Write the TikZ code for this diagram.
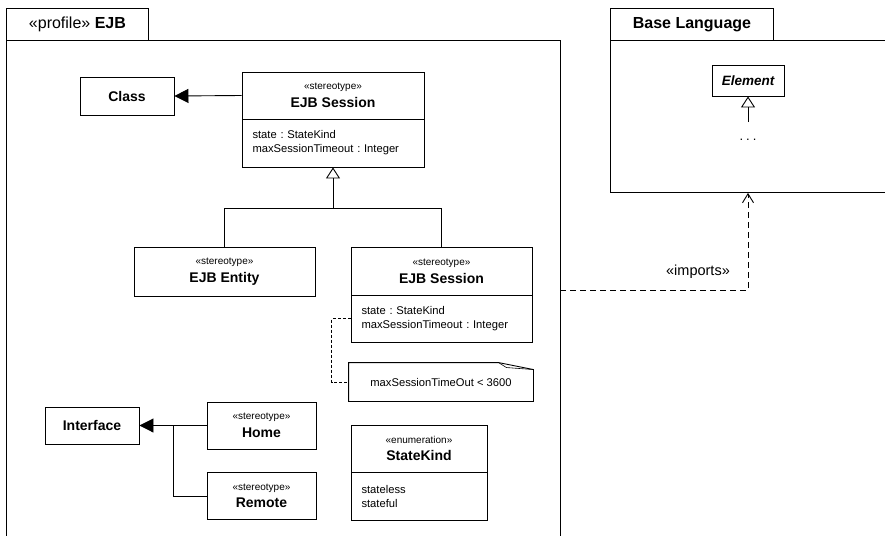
\documentclass[tikz,border=0pt]{standalone}
\usepackage{fontspec}
\setmainfont{Liberation Sans}
\usetikzlibrary{arrows.meta,calc}
\frenchspacing

% font sizes used by the UML elements
\newcommand\umlpkg{\fontsize{16}{19}\selectfont}
\newcommand\umlname{\fontsize{14}{16}\selectfont\bfseries}
\newcommand\umlst{\fontsize{10}{12}\selectfont\mdseries}
\newcommand\umlattr{\fontsize{11.2}{14}\selectfont}
\newcommand\umlimp{\fontsize{14.5}{17}\selectfont}

\begin{document}
\begin{tikzpicture}[x=1pt,y=-1pt,line width=0.9pt,
  box/.style={draw,fill=white,inner sep=0pt,align=center,font=\umlname},
  attrs/.style={draw,fill=white,inner xsep=10.5pt,inner ysep=0pt,align=left,font=\umlattr},
  pkg/.style={draw,inner sep=0pt,anchor=north west},
  gen/.style={-{Triangle[open,length=11pt,width=14pt]}},
  ext/.style={-{Triangle[length=14pt,width=14pt]}},
  imp/.style={dash pattern=on 6pt off 4pt,-{Straight Barb[length=9pt,width=11pt]}},
  notelink/.style={dash pattern=on 3pt off 2pt,line width=0.7pt}]
\useasboundingbox (0,0) rectangle (885,535);

% ---- package EJB ----
\node (ejbbody) [pkg,minimum width=554pt,minimum height=520pt] at (6,40) {};
\node (ejbtab) [pkg,minimum width=142pt,minimum height=32pt] at (6,8) {};
\node (ejbname) at (ejbtab.center) {\umlpkg «profile»\ \textbf{EJB}};

% ---- package Base Language ----
\node (basebody) [pkg,minimum width=290pt,minimum height=152pt] at (610,40) {};
\node (basetab) [pkg,minimum width=163pt,minimum height=32pt] at (610,8) {};
\node (basename) at (basetab.center) {\umlpkg\bfseries Base Language};

\node (elem) [box,minimum width=72pt,minimum height=31pt,font=\fontsize{13.5}{16}\selectfont\bfseries\itshape] at (748,80.5) {Element};
\coordinate (elemsub) at (748,122);
\draw[gen] (elemsub) -- (elem.south);
\node (dots) at (748,140) {\fontsize{13}{16}\selectfont .\hspace{3pt}.\hspace{3pt}.};

% ---- imports dependency ----
\coordinate (impstart) at (560,290);
\draw[imp] (impstart) -| (elem.south |- basebody.south);
\node (implbl) at (698,272) {\umlimp «imports»};

% ---- EJB Session with metaclass Class ----
\node (class) [box,minimum width=94pt,minimum height=38pt] at (127,96) {Class};
\node (s1h) [box,minimum width=182pt,minimum height=47pt] at (333,95.5)
  {{\umlst «stereotype»}\\[1.5pt]EJB Session};
\node (s1a) [attrs,text width=161pt,minimum height=48pt] at (333,143)
  {state : StateKind\\maxSessionTimeout : Integer};
\draw[ext] (s1h.west) -- (class.east);

% ---- specialisations ----
\node (ent) [box,minimum width=181pt,minimum height=49pt] at (224.5,271.5)
  {{\umlst «stereotype»}\\[1.5pt]EJB Entity};
\node (s2h) [box,minimum width=181pt,minimum height=48pt] at (441.5,271.5)
  {{\umlst «stereotype»}\\[1.5pt]EJB Session};
\node (s2a) [attrs,text width=160pt,minimum height=47pt] at (441.5,318.5)
  {state : StateKind\\maxSessionTimeout : Integer};
\coordinate (genj) at (333,208);
\draw[gen] (ent.north) |- (genj) -- (s1a.south);
\draw (s2h.north) |- (genj);

% ---- constraint note ----
\node (note) [inner sep=0pt,minimum width=184pt,minimum height=38pt,font=\umlattr] at (441,382)
  {maxSessionTimeOut < 3600};
\draw (note.north west) -- ([xshift=-35pt]note.north east) -- ([yshift=-7pt]note.north east)
  -- (note.south east) -- (note.south west) -- cycle;
\draw[line width=0.6pt] ([xshift=-35pt]note.north east) -- ([xshift=-27pt,yshift=-5pt]note.north east)
  -- ([yshift=-7pt]note.north east);
\draw[notelink] (s2a.west) -- ++(-19,0) |- (note.west);

% ---- Interface with Home and Remote ----
\node (iface) [box,minimum width=94pt,minimum height=37pt] at (92,425.5) {Interface};
\node (home) [box,minimum width=109pt,minimum height=47pt] at (261.5,425.5)
  {{\umlst «stereotype»}\\[1.5pt]Home};
\node (remote) [box,minimum width=109pt,minimum height=47pt] at (261.5,496)
  {{\umlst «stereotype»}\\[1.5pt]Remote};
\draw[ext] (home.west) -- (iface.east);
\draw (remote.west) -| ($(iface.east)!0.5!(home.west)$);

% ---- enumeration StateKind ----
\node (skh) [box,minimum width=136pt,minimum height=47pt] at (419,448.5)
  {{\umlst «enumeration»}\\[1.5pt]StateKind};
\node (ska) [attrs,text width=115pt,minimum height=48pt] at (419,496)
  {stateless\\stateful};
\end{tikzpicture}
\end{document}
